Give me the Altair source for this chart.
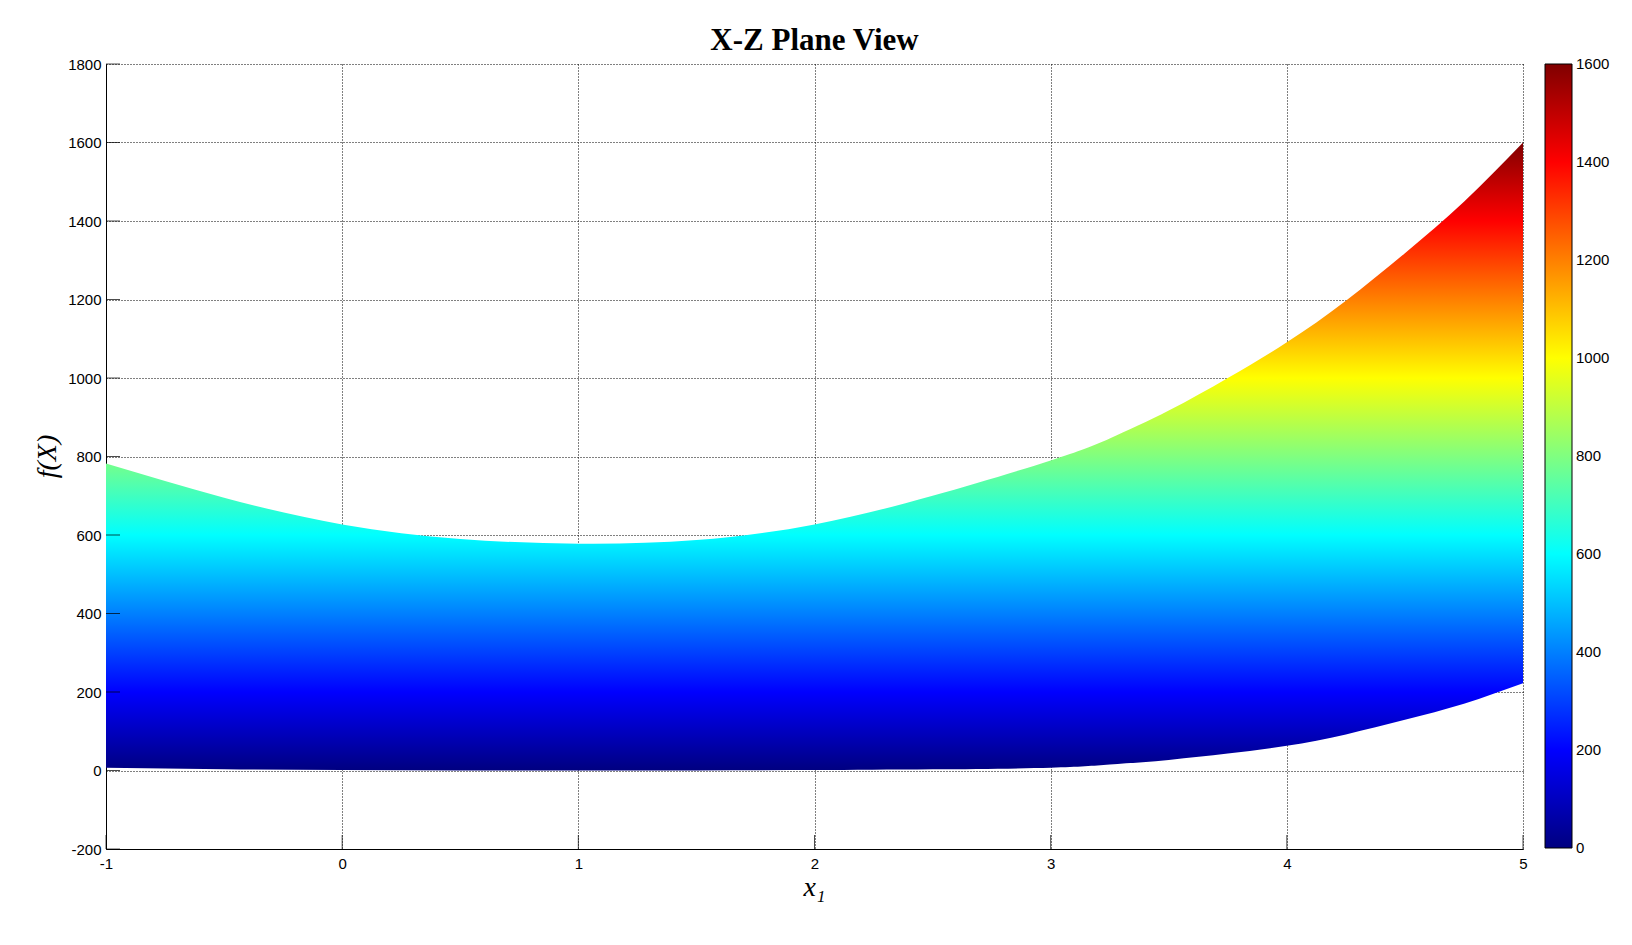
import altair as alt
import pandas as pd

# ---- data ----
x1_vals = [-1, -0.5, 0, 0.5, 1, 1.5, 2, 2.5, 3, 3.25, 3.5, 3.75, 4, 4.25, 4.5, 4.75, 5]
upper_vals = [782, 695, 627, 590, 578, 587, 627, 700, 790, 846, 917, 1000, 1091, 1197, 1318, 1449, 1600]
lower_vals = [7, 3, 1, 0, 0, 0, 1, 3, 7, 15, 27, 43, 63, 92, 129, 170, 222]

x_ticks = [-1, 0, 1, 2, 3, 4, 5]
y_ticks = [-200, 0, 200, 400, 600, 800, 1000, 1200, 1400, 1600, 1800]
cbar_ticks = [0, 200, 400, 600, 800, 1000, 1200, 1400, 1600]

# jet colormap anchor colours (piecewise linear between these)
jet_colors = ["#000080", "#0000ff", "#0080ff", "#00ffff", "#80ff80",
              "#ffff00", "#ff8000", "#ff0000", "#800000"]

env = pd.DataFrame({"x": x1_vals, "upper": upper_vals, "lower": lower_vals})
xt = pd.DataFrame({"x": x_ticks})
yt = pd.DataFrame({"upper": y_ticks})
cb = pd.DataFrame({"v": cbar_ticks})

LABEL_FONT = "Liberation Sans"
SERIF = "Liberation Serif"

x_scale = alt.Scale(domain=[-1, 5], nice=False, zero=False)
y_scale = alt.Scale(domain=[-200, 1800], nice=False, zero=False)

x_axis = alt.Axis(values=x_ticks, title="x\u2081", titleFont=SERIF, titleFontSize=28,
                  titleFontStyle="italic", titleFontWeight="normal", titleColor="black",
                  titleX=708, titleY=46, titleBaseline="alphabetic",
                  labelFont=LABEL_FONT, labelFontSize=15, labelColor="black",
                  labelExpr="'' + datum.value",
                  labelPadding=7, ticks=False, domainColor="black", domainWidth=1,
                  grid=True, gridColor="black", gridDash=[1, 2], gridOpacity=1,
                  gridWidth=1, labelFlush=False, labelOverlap=False)
y_axis = alt.Axis(values=y_ticks, title="f(X)", titleFont=SERIF, titleFontSize=28,
                  titleFontStyle="italic", titleFontWeight="normal", titleColor="black",
                  titleX=-59, titleY=392, titleBaseline="middle", titleAngle=270,
                  labelFont=LABEL_FONT, labelFontSize=15, labelColor="black",
                  labelExpr="'' + datum.value",
                  labelPadding=5, ticks=False, domainColor="black", domainWidth=1,
                  grid=True, gridColor="black", gridDash=[1, 2], gridOpacity=1,
                  gridWidth=1, labelFlush=False, labelOverlap=False)

grad = alt.Gradient(
    gradient="linear",
    stops=[alt.GradientStop(offset=i / 8, color=c) for i, c in enumerate(jet_colors)],
    x1=0, x2=0, y1=1, y2=0,
)

area = alt.Chart(env).mark_area(interpolate="natural", color=grad, strokeWidth=0).encode(
    x=alt.X("x:Q", scale=x_scale, axis=x_axis),
    y=alt.Y("upper:Q", scale=y_scale, axis=y_axis),
    y2="lower:Q",
)

xticks_layer = alt.Chart(xt).mark_tick(orient="vertical", color="black", thickness=1,
                                       size=14, yOffset=-7).encode(
    x=alt.X("x:Q", scale=x_scale, axis=x_axis),
    y=alt.datum(-200, type="quantitative", scale=y_scale, axis=y_axis),
)

yticks_layer = alt.Chart(yt).mark_tick(orient="horizontal", color="black", thickness=1,
                                       size=14, xOffset=7).encode(
    y=alt.Y("upper:Q", scale=y_scale, axis=y_axis),
    x=alt.datum(-1, type="quantitative", scale=x_scale, axis=x_axis),
)

# colour scale domain widened by half a unit at each end so that the end labels of
# the colour bar stay vertically centred on their values
cbar_domain = [cbar_ticks[0] - 0.5] + cbar_ticks[1:-1] + [cbar_ticks[-1] + 0.5]

legend_layer = alt.Chart(cb).mark_point(opacity=0).encode(
    color=alt.Color(
        "v:Q",
        scale=alt.Scale(domain=cbar_domain, range=jet_colors, interpolate="rgb"),
        legend=alt.Legend(
            title=None, orient="none", legendX=1439, legendY=0, direction="vertical",
            gradientLength=784, gradientThickness=27, gradientStrokeColor="black",
            gradientStrokeWidth=1, values=cbar_ticks, labelOverlap=False,
            labelFont=LABEL_FONT, labelFontSize=15, labelColor="black",
            labelOffset=4, labelExpr="'' + datum.value",
        ),
    )
)

chart = (
    alt.layer(area, xticks_layer, yticks_layer, legend_layer)
    .properties(
        width=1417,
        height=785,
        autosize=alt.AutoSizeParams(type="none"),
        padding={"left": 98, "top": 56, "right": 101, "bottom": 88},
        title=alt.TitleParams(text="X-Z Plane View", font=SERIF, fontSize=31,
                              fontWeight="bold", color="black", anchor="middle",
                              offset=0),
        background="white",
    )
    .configure_view(strokeWidth=0)
)

chart.save("out.html", embed_options={"renderer": "svg", "actions": False})
